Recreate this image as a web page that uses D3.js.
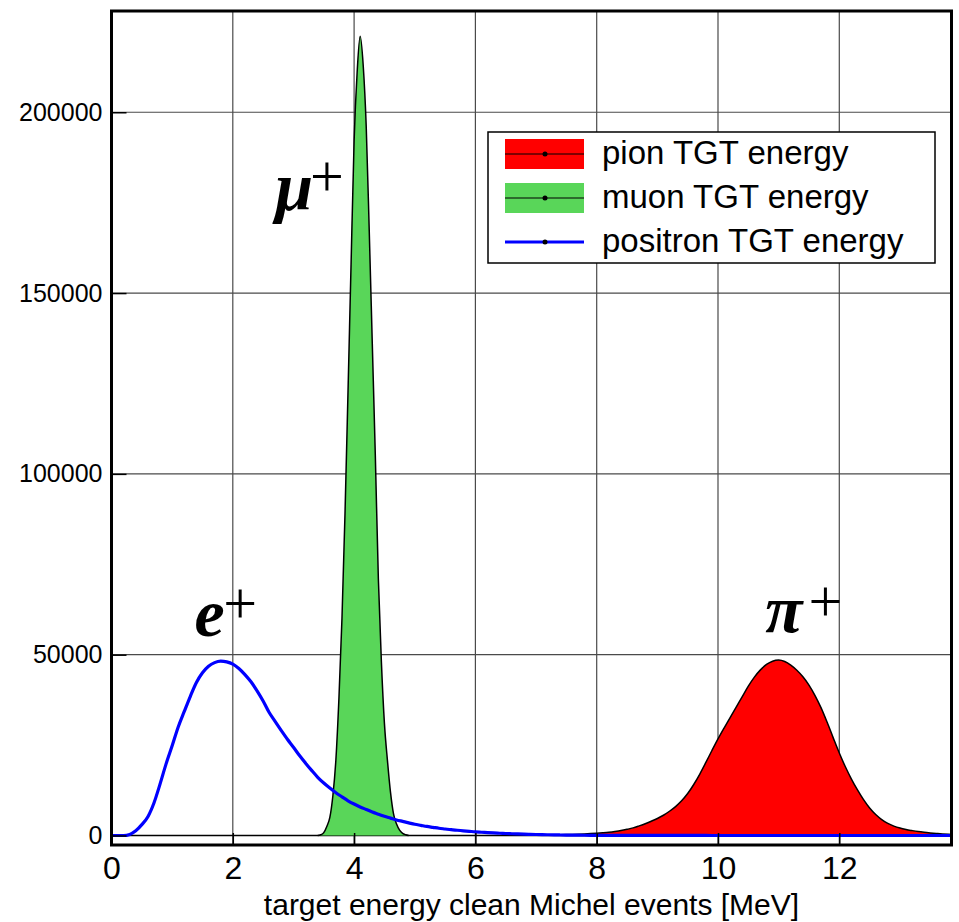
<!DOCTYPE html>
<html>
<head>
<meta charset="utf-8">
<script src="https://cdn.jsdelivr.net/npm/d3@7"></script>
<style>
  body { margin: 0; background: #fff; }
  svg { display: block; font-family: "Liberation Sans", Arial, sans-serif; }
  .grid line { stroke: #4a4a4a; stroke-width: 1.2; }
  .axis path { display: none; }
  .axis line { stroke: #000; stroke-width: 1.5; }
</style>
</head>
<body>
<svg width="959" height="922"></svg>
<script>
// **** Data ****
var xTicks = [0, 2, 4, 6, 8, 10, 12];
var yTicks = [0, 50000, 100000, 150000, 200000];

// positron TGT energy, bins from 0.0 MeV, step 0.1 MeV
var positronStart = 0.0, positronStep = 0.1;
var positronCounts = [
  0, 0, 0, 300, 1300, 3000, 5200, 9000, 14200, 19800,
  24800, 30000, 34300, 38500, 42300, 45000, 46800, 47800, 48200, 48000,
  47400, 46200, 44500, 42500, 40000, 37200, 34000, 31500, 29000, 26600,
  24400, 22100, 20000, 18000, 16100, 14500, 13100, 11800, 10700, 9600,
  8700, 7900, 7200, 6500, 5900, 5300, 4800, 4300, 3900, 3500,
  3100, 2800, 2500, 2250, 2000, 1800, 1600, 1450, 1300, 1150,
  1000, 900, 800, 700, 620, 550, 480, 420, 370, 320,
  280, 240, 200, 170, 140, 120, 100, 80, 60, 50,
  40, 35, 30, 25, 20, 18, 15, 12, 10, 9,
  8, 8, 7, 7, 6, 6, 5, 5, 5, 4,
  4, 4, 3, 3, 3, 3, 2, 2, 2, 2,
  2, 2, 1, 1, 1, 1, 1, 1, 1, 1,
  1, 1, 1, 1, 0, 0, 0, 0, 0, 0,
  0, 0, 0, 0, 0, 0, 0, 0, 0, 0
];

// muon TGT energy, bins from 3.40 MeV, step 0.05 MeV
var muonStart = 3.40, muonStep = 0.05;
var muonCounts = [
  0, 200, 800, 2500, 5000, 11000, 21000, 38000, 60000, 89000,
  123000, 158000, 192000, 211000, 221000, 213000, 196000, 167000, 136000, 105000,
  71000, 48000, 31000, 20700, 12000, 6000, 3200, 1500, 600, 200, 0
];

// pion TGT energy, bins from 7.0 MeV, step 0.1 MeV
var pionStart = 7.0, pionStep = 0.1;
var pionCounts = [
  80, 100, 130, 160, 200, 250, 300, 360, 430, 520,
  620, 750, 900, 1100, 1350, 1700, 2100, 2650, 3250, 3950,
  4700, 5600, 6700, 8000, 9600, 11600, 14100, 17000, 20200, 23500,
  26700, 29700, 32600, 35500, 38400, 41300, 43800, 45800, 47300, 48200,
  48500, 48100, 47100, 45700, 43900, 41600, 38700, 35300, 31300, 27000,
  22800, 19000, 15600, 12600, 9900, 7600, 5800, 4400, 3350, 2600,
  2050, 1650, 1350, 1080, 870, 700, 550, 420, 320, 250
];

var legendLabels = ['pion TGT energy', 'muon TGT energy', 'positron TGT energy'];
var legendColors = ['#ff0000', '#59d659', '#0000ff'];

function toPoints(start, step, counts) {
    return counts.map(function(c, i) { return { e: start + i * step, n: c }; });
}

var pion = toPoints(pionStart, pionStep, pionCounts);
var muon = toPoints(muonStart, muonStep, muonCounts);
var positron = toPoints(positronStart, positronStep, positronCounts);

// **** Scales ****
var xScale = d3.scaleLinear().domain([0, 13.85]).range([111.5, 951.5]);
var yScale = d3.scaleLinear().domain([-2630, 228000]).range([845, 11]);

var svg = d3.select('svg');

svg.append('defs').append('clipPath').attr('id', 'frame')
    .append('rect')
    .attr('x', xScale(0)).attr('y', yScale(228000))
    .attr('width', xScale(13.85) - xScale(0))
    .attr('height', yScale(-2630) - yScale(228000));

// **** Grid ****
var grid = svg.append('g').attr('class', 'grid');
grid.selectAll('.gx').data(xTicks.slice(1)).enter().append('line')
    .attr('x1', function(d) { return xScale(d); }).attr('x2', function(d) { return xScale(d); })
    .attr('y1', yScale(228000)).attr('y2', yScale(-2630));
grid.selectAll('.gy').data(yTicks.slice(1)).enter().append('line')
    .attr('x1', xScale(0)).attr('x2', xScale(13.85))
    .attr('y1', function(d) { return yScale(d); }).attr('y2', function(d) { return yScale(d); });

// **** Histograms ****
var plot = svg.append('g').attr('clip-path', 'url(#frame)');

var area = d3.area()
    .curve(d3.curveMonotoneX)
    .x(function(d) { return xScale(d.e); })
    .y0(yScale(0))
    .y1(function(d) { return yScale(d.n); });

var line = d3.line()
    .curve(d3.curveMonotoneX)
    .x(function(d) { return xScale(d.e); })
    .y(function(d) { return yScale(d.n); });

// zero line of the filled histograms
plot.append('line')
    .attr('x1', xScale(0)).attr('x2', xScale(13.85))
    .attr('y1', yScale(0)).attr('y2', yScale(0))
    .attr('stroke', '#000').attr('stroke-width', 1.5);

plot.append('path').datum(pion).attr('d', area).attr('fill', legendColors[0]);
plot.append('path').datum(pion).attr('d', line)
    .attr('fill', 'none').attr('stroke', '#000').attr('stroke-width', 1.5);

plot.append('path').datum(muon).attr('d', area).attr('fill', legendColors[1]);
plot.append('path').datum(muon).attr('d', line)
    .attr('fill', 'none').attr('stroke', '#000').attr('stroke-width', 1.5);

plot.append('path').datum(positron).attr('d', line)
    .attr('fill', 'none').attr('stroke', legendColors[2]).attr('stroke-width', 3.2)
    .attr('stroke-linejoin', 'round');

// **** Axes ****
var xAxis = svg.append('g').attr('class', 'axis')
    .attr('transform', 'translate(0,' + yScale(-2630) + ')')
    .call(d3.axisBottom(xScale).tickValues(xTicks).tickSize(-12).tickFormat(d3.format('d')));
xAxis.selectAll('text')
    .attr('y', 34).attr('dy', 0)
    .attr('font-size', 32).attr('font-family', 'Liberation Sans, Arial, sans-serif')
    .attr('fill', '#000');

var yAxis = svg.append('g').attr('class', 'axis')
    .attr('transform', 'translate(' + xScale(0) + ',0)')
    .call(d3.axisLeft(yScale).tickValues(yTicks).tickSize(-15).tickFormat(d3.format('d')));
yAxis.selectAll('text')
    .attr('x', -9)
    .attr('font-size', 25).attr('font-family', 'Liberation Sans, Arial, sans-serif')
    .attr('fill', '#000');

svg.append('text')
    .attr('x', (xScale(0) + xScale(13.85)) / 2).attr('y', 915)
    .attr('text-anchor', 'middle').attr('font-size', 30)
    .text('target energy clean Michel events [MeV]');

// frame
svg.append('rect')
    .attr('x', xScale(0)).attr('y', yScale(228000))
    .attr('width', xScale(13.85) - xScale(0))
    .attr('height', yScale(-2630) - yScale(228000))
    .attr('fill', 'none').attr('stroke', '#000').attr('stroke-width', 3);

// **** Particle labels ****
var particles = [
    { sym: 'e', x: 1.37, y: 55200, px: 2.12, py: 58800 },
    { sym: '\u03bc', x: 2.70, y: 173000, px: 3.55, py: 176800 },
    { sym: '\u03c0', x: 10.78, y: 56300, px: 11.77, py: 59300 }
];
particles.forEach(function(p) {
    svg.append('text')
        .attr('x', xScale(p.x)).attr('y', yScale(p.y))
        .attr('font-family', 'Liberation Serif, Times New Roman, serif')
        .attr('font-style', 'italic').attr('font-weight', 'bold')
        .attr('font-size', 68).text(p.sym);
    svg.append('text')
        .attr('x', xScale(p.px)).attr('y', yScale(p.py))
        .attr('text-anchor', 'middle')
        .attr('font-family', 'Liberation Serif, Times New Roman, serif')
        .attr('font-size', 60).text('+');
});

// **** Legend ****
var legend = svg.append('g');
legend.append('rect')
    .attr('x', 488).attr('y', 132).attr('width', 447).attr('height', 131)
    .attr('fill', '#fff').attr('stroke', '#000').attr('stroke-width', 1.5);

legendLabels.forEach(function(lab, i) {
    var cy = 154 + i * 44;
    if (i < 2) {
        legend.append('rect')
            .attr('x', 505).attr('y', cy - 15).attr('width', 79).attr('height', 30)
            .attr('fill', legendColors[i]);
        legend.append('line')
            .attr('x1', 505).attr('x2', 584).attr('y1', cy).attr('y2', cy)
            .attr('stroke', '#000').attr('stroke-width', 1.2);
    } else {
        legend.append('line')
            .attr('x1', 505).attr('x2', 584).attr('y1', cy).attr('y2', cy)
            .attr('stroke', legendColors[i]).attr('stroke-width', 3);
    }
    legend.append('circle').attr('cx', 545).attr('cy', cy).attr('r', 2.5).attr('fill', '#000');
    legend.append('text')
        .attr('x', 602).attr('y', cy + 10)
        .attr('font-size', 33).text(lab);
});
</script>
</body>
</html>
